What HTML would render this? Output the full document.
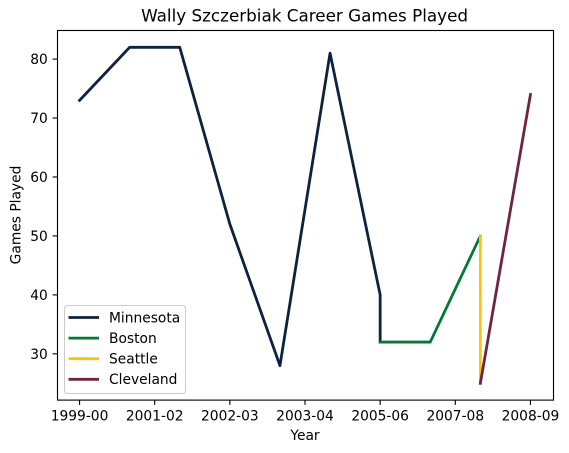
<!DOCTYPE html>
<html lang="en">
<head>
<meta charset="utf-8">
<title>Wally Szczerbiak Career Games Played</title>
<style>
html,body{margin:0;padding:0;background:#fff;width:569px;height:453px;overflow:hidden}
svg{display:block;font-family:"DejaVu Sans",sans-serif;fill:#000}
text{font-size:13.8px}
</style>
</head>
<body>
<svg id="chart" width="569" height="453" viewBox="0 0 569 453" xmlns="http://www.w3.org/2000/svg">
<text x="304.6" y="21.5" text-anchor="middle" style="font-size:16.78px">Wally Szczerbiak Career Games Played</text>
<text x="305" y="440" text-anchor="middle">Year</text>
<text transform="translate(20.5 215) rotate(-90)" text-anchor="middle">Games Played</text>
<g id="marks"></g>
<g id="axes"></g>
<rect x="57.5" y="30.5" width="496" height="369.6" fill="none" stroke="#000" stroke-width="1.11"/>
<g id="legend">
<rect x="64.5" y="305.5" width="121" height="88" rx="2.8" fill="#fff" fill-opacity="0.8" stroke="#ccc" stroke-width="1.11"/>
</g>
</svg>
<script>
const seasonIndex = [0, 1, 2, 3, 4, 5, 6, 7, 8, 9];
const minnesotaX = [0, 1, 2, 3, 4, 5, 6, 6];
const minnesotaGames = [73, 82, 82, 52, 28, 81, 40, 32];
const bostonX = [6, 7, 8];
const bostonGames = [32, 32, 50];
const seattleX = [8, 8];
const seattleGames = [50, 25];
const clevelandX = [8, 9];
const clevelandGames = [25, 74];
const seriesNames = ['Minnesota', 'Boston', 'Seattle', 'Cleveland'];
const seriesColors = ['#0C2340', '#007A33', '#FFC20E', '#6F263D'];
const xTickValues = [0, 1.5, 3, 4.5, 6, 7.5, 9];
const xTickLabels = ['1999-00', '2001-02', '2002-03', '2003-04', '2005-06', '2007-08', '2008-09'];
const yTickValues = [30, 40, 50, 60, 70, 80];

const NS = 'http://www.w3.org/2000/svg';
const plotLeft = 57, plotWidth = 496, plotTop = 30.5, plotHeight = 369.6;
const xMin = -0.45, xMax = 9.45, yMin = 22.15, yMax = 84.85;
function xScale(v) { return plotLeft + (v - xMin) / (xMax - xMin) * plotWidth; }
function yScale(v) { return plotTop + plotHeight - (v - yMin) / (yMax - yMin) * plotHeight; }
function make(tag, attrs) {
  const el = document.createElementNS(NS, tag);
  for (const k in attrs) el.setAttribute(k, attrs[k]);
  return el;
}

const marks = document.getElementById('marks');
const allX = [minnesotaX, bostonX, seattleX, clevelandX];
const allY = [minnesotaGames, bostonGames, seattleGames, clevelandGames];
allX.forEach(function (xs, s) {
  const pts = xs.map(function (x, i) { return xScale(x).toFixed(2) + ',' + yScale(allY[s][i]).toFixed(2); }).join(' ');
  const line = make('polyline', { points: pts, fill: 'none', stroke: seriesColors[s], 'stroke-width': 2.8, 'stroke-linejoin': 'round', 'stroke-linecap': 'square' });
  
  
  marks.appendChild(line);
});

const axes = document.getElementById('axes');
xTickValues.forEach(function (v, i) {
  const x = xScale(v);
  const tick = make('line', { x1: x, x2: x, y1: 400, y2: 404.9, stroke: '#000', 'stroke-width': 1.11 });
  
  
  axes.appendChild(tick);
  const label = make('text', { x: x, y: 420.7, 'text-anchor': 'middle' });
  label.textContent = xTickLabels[i];
  
  
  axes.appendChild(label);
});
yTickValues.forEach(function (v) {
  const y = yScale(v);
  const tick = make('line', { x1: 52.6, x2: 57.5, y1: y, y2: y, stroke: '#000', 'stroke-width': 1.11 });
  
  
  axes.appendChild(tick);
  const label = make('text', { x: 47.8, y: y + 5.1, 'text-anchor': 'end' });
  label.textContent = String(v);
  
  
  axes.appendChild(label);
});

const legend = document.getElementById('legend');
seriesNames.forEach(function (name, i) {
  const y = 317.5 + i * 20.6;
  const handle = make('line', { x1: 68.5, x2: 99, y1: y, y2: y, stroke: seriesColors[i], 'stroke-width': 2.8 });
  
  
  legend.appendChild(handle);
  const label = make('text', { x: 109, y: y + 4.8 });
  label.textContent = name;
  
  
  legend.appendChild(label);
});
</script>
</body>
</html>
